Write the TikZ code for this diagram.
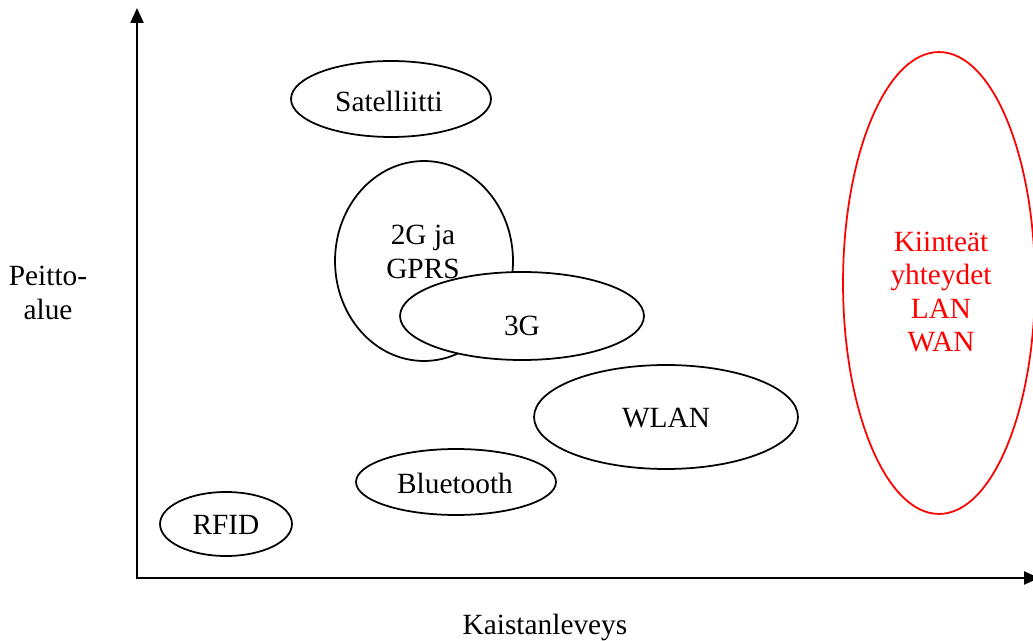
\documentclass[tikz,border=0pt]{standalone}
\usepackage{fontspec}
\setmainfont{Liberation Serif}
\usetikzlibrary{positioning,shapes.geometric,arrows.meta}
\definecolor{wired}{HTML}{FF0000}
\tikzset{tech/.style={ellipse,draw=black,line width=1pt,fill=white,inner sep=0pt},fixed/.style={tech,draw=wired},axis/.style={draw=black,line width=1.3pt,{Triangle[length=3mm,width=2.6mm]}-{Triangle[length=3mm,width=2.6mm]}},caption/.style={align=center,font=\fontsize{16.7}{19}\selectfont}}

\begin{document}
\begin{tikzpicture}[x=0.02cm,y=-0.02cm]
\useasboundingbox (0,0) rectangle (1033,641);
% axes
\coordinate (origin) at (137,578);
\coordinate (ytop) at (137,8);
\coordinate (xend) at (1039,578);
\draw[axis] (ytop)--(origin)--(xend);
% wireless technologies
\node[tech,minimum width=4cm,minimum height=1.52cm] (sat) at (391,99) {};
\node[tech,minimum width=3.56cm,minimum height=4cm] (gprs) at (424,261) {};
\node[tech,minimum width=4.88cm,minimum height=1.76cm] (umts) at (522,316) {};
\node[tech,minimum width=5.28cm,minimum height=2.08cm] (wlan) at (666,417) {};
\node[tech,minimum width=4cm,minimum height=1.32cm] (bt) at (456,482) {};
\node[tech,minimum width=2.64cm,minimum height=1.28cm] (rfid) at (226,524) {};
\node[caption] (sattext) at (389,101) {Satelliitti};
\node[caption] (gprstext) at (423,252) {2G ja\\GPRS};
\node[caption] (umtstext) at (522,326) {3G};
\node[caption] (wlantext) at (666,418) {WLAN};
\node[caption] (bttext) at (455,483) {Bluetooth};
\node[caption] (rfidtext) at (226,525) {RFID};
% fixed networks
\node[fixed,minimum width=3.84cm,minimum height=9.24cm] (lanwan) at (939,283) {};
\node[caption,text=wired] (lanwantext) at (941,292) {Kiinteät\\yhteydet\\LAN\\WAN};
% axis names
\node[caption] (yname) at (48,293) {Peitto-\\alue};
\node[caption] (xname) at (545,627) {Kaistanleveys};
\end{tikzpicture}
\end{document}
